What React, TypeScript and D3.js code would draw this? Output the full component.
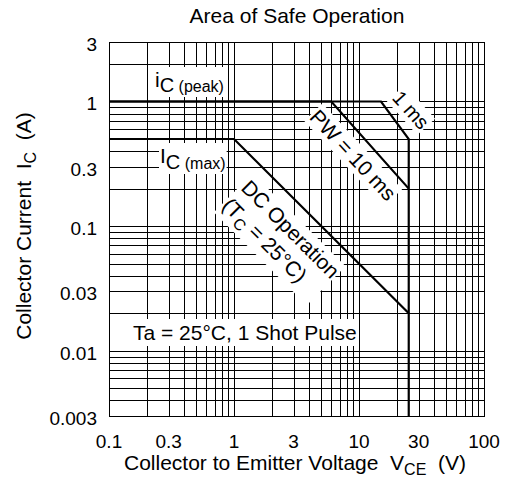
import React, { useEffect, useRef } from 'react';
import * as d3 from 'd3';

const xTicks = [0.1, 0.3, 1, 3, 10, 30, 100];
const xTickLabels = ['0.1', '0.3', '1', '3', '10', '30', '100'];
const yTicks = [0.003, 0.01, 0.03, 0.1, 0.3, 1, 3];
const yTickLabels = ['0.003', '0.01', '0.03', '0.1', '0.3', '1', '3'];

// Safe operating area boundaries (V in volts, I in amperes)
const dcV = [0.1, 1, 25];
const dcI = [0.5, 0.5, 0.02];
const pw10V = [0.1, 6, 25];
const pw10I = [1, 1, 0.2];
const pw1V = [0.1, 15, 25, 25];
const pw1I = [1, 1, 0.5, 0.003];

const W = 513;
const H = 489;
const M = { left: 109, right: 484, top: 42, bottom: 416 };
const FONT = "'Liberation Sans', Arial, Helvetica, sans-serif";

export default function App() {
  const ref = useRef<SVGSVGElement>(null);

  useEffect(() => {
    const svg = d3.select(ref.current);
    svg.selectAll('*').remove();
    svg.append('rect').attr('width', W).attr('height', H).attr('fill', '#fff');

    const x = d3.scaleLog().domain([0.1, 100]).range([M.left, M.right]);
    const y = d3.scaleLog().domain([0.003, 3]).range([M.bottom, M.top]);
    const px = (v: number) => Math.round(x(v)) + 0.5;
    const py = (v: number) => Math.round(y(v)) + 0.5;

    const grid = svg.append('g').attr('stroke', '#000').attr('stroke-width', 1);
    grid.selectAll('line.v').data(x.ticks()).join('line')
      .attr('x1', d => px(d)).attr('x2', d => px(d))
      .attr('y1', M.top).attr('y2', M.bottom + 1);
    grid.selectAll('line.h').data(y.ticks()).join('line')
      .attr('y1', d => py(d)).attr('y2', d => py(d))
      .attr('x1', M.left).attr('x2', M.right + 1);

    const label = (transform: string, build: (g: any) => void, pad = 2) => {
      const g = svg.append('g').attr('transform', transform)
        .attr('font-family', FONT).attr('fill', '#000')
        .style('white-space', 'pre');
      build(g);
      const bb = (g.node() as SVGGElement).getBBox();
      g.insert('rect', ':first-child')
        .attr('x', bb.x - pad).attr('y', bb.y - pad)
        .attr('width', bb.width + 2 * pad).attr('height', bb.height + 2 * pad)
        .attr('fill', '#fff');
    };

    label('translate(155,87)', g => {
      const t = g.append('text').attr('font-size', 21);
      t.append('tspan').text('i');
      t.append('tspan').attr('dy', 5).attr('font-size', 20).text('C');
      t.append('tspan').attr('font-size', 16).text(' (peak)');
    }, 1);

    label('translate(160,163)', g => {
      const t = g.append('text').attr('font-size', 21);
      t.append('tspan').text('I');
      t.append('tspan').attr('dy', 6).attr('font-size', 20).text('C');
      t.append('tspan').attr('font-size', 16).text(' (max)');
    }, 1);

    label('translate(353,155) rotate(47)', g => {
      g.append('text').attr('font-size', 21).attr('text-anchor', 'middle')
        .attr('dy', '0.35em').text('PW = 10 ms');
    }, 1);

    label('translate(411,110) rotate(48)', g => {
      g.append('text').attr('font-size', 20).attr('text-anchor', 'middle')
        .attr('dy', '0.35em').text('1 ms');
    }, 1);

    label('translate(240,189) rotate(45)', g => {
      g.append('text').attr('font-size', 21).text('DC Operation');
      const t = g.append('text').attr('font-size', 21).attr('x', -1).attr('y', 26);
      t.append('tspan').text('(T');
      t.append('tspan').attr('dy', 5).attr('font-size', 16).text('C');
      t.append('tspan').attr('dy', -5).text(' = 25°C)');
    }, 1);

    label('translate(133,340)', g => {
      g.append('text').attr('font-size', 21).text('Ta = 25°C, 1 Shot Pulse');
    }, 2);

    // SOA curves drawn on top
    const line = d3.line<[number, number]>().x(d => x(d[0])).y(d => y(d[1]));
    const curves = [
      dcV.map((v, i) => [v, dcI[i]] as [number, number]),
      pw10V.map((v, i) => [v, pw10I[i]] as [number, number]),
      pw1V.map((v, i) => [v, pw1I[i]] as [number, number]),
    ];
    svg.append('g').selectAll('path').data(curves).join('path')
      .attr('d', d => line(d))
      .attr('fill', 'none').attr('stroke', '#000').attr('stroke-width', 2.2)
      .attr('stroke-linejoin', 'miter');

    // tick labels
    svg.append('g').attr('font-family', FONT).attr('font-size', 19).attr('text-anchor', 'middle')
      .selectAll('text').data(xTicks).join('text')
      .attr('x', d => x(d)).attr('y', 448)
      .text((d, i) => xTickLabels[i]);
    svg.append('g').attr('font-family', FONT).attr('font-size', 19).attr('text-anchor', 'end')
      .selectAll('text').data(yTicks).join('text')
      .attr('x', 97).attr('y', d => y(d) + 9)
      .text((d, i) => yTickLabels[i]);

    // title
    svg.append('text').attr('font-family', FONT).attr('font-size', 21)
      .attr('text-anchor', 'middle').attr('x', 297).attr('y', 23)
      .text('Area of Safe Operation');

    // x axis title
    const xt = svg.append('text').attr('font-family', FONT).attr('font-size', 21)
      .attr('text-anchor', 'middle').attr('x', 295).attr('y', 470)
      .style('white-space', 'pre');
    xt.append('tspan').text('Collector to Emitter Voltage  V');
    xt.append('tspan').attr('dy', 5).attr('font-size', 16).text('CE');
    xt.append('tspan').attr('dy', -5).text('  (V)');

    // y axis title
    const yt = svg.append('text').attr('font-family', FONT).attr('font-size', 21)
      .attr('text-anchor', 'middle').attr('transform', 'translate(31,226) rotate(-90)')
      .style('white-space', 'pre');
    yt.append('tspan').text('Collector Current  I');
    yt.append('tspan').attr('dy', 5).attr('font-size', 16).text('C');
    yt.append('tspan').attr('dy', -5).text('  (A)');
  }, []);

  return (
    <svg ref={ref} width={W} height={H}
      style={{ position: 'absolute', left: 0, top: 0, display: 'block' }} />
  );
}
